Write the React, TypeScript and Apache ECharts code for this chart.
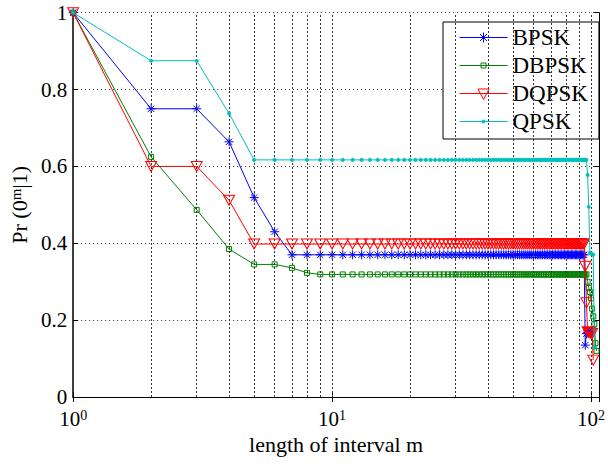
import React, { useEffect, useRef } from "react";
import * as echarts from "echarts";

// interval length m (x values)
const mValues = [
  1, 2, 3, 4, 5, 6, 7, 8, 9, 10,
  11, 12, 13, 14, 15, 16, 17, 18, 19, 20,
  21, 22, 23, 24, 25, 26, 27, 28, 29, 30,
  31, 32, 33, 34, 35, 36, 37, 38, 39, 40,
  41, 42, 43, 44, 45, 46, 47, 48, 49, 50,
  51, 52, 53, 54, 55, 56, 57, 58, 59, 60,
  61, 62, 63, 64, 65, 66, 67, 68, 69, 70,
  71, 72, 73, 74, 75, 76, 77, 78, 79, 80,
  81, 82, 83, 84, 85, 86, 87, 88, 89, 90,
  91, 92, 93, 94, 95, 96, 97, 98, 99, 100,
  101, 102, 103, 104, 105,
];

const bpsk = [
  1, 0.75, 0.75, 0.664, 0.519, 0.43, 0.37, 0.37, 0.37, 0.37,
  0.37, 0.37, 0.37, 0.37, 0.37, 0.37, 0.37, 0.37, 0.37, 0.37,
  0.37, 0.37, 0.37, 0.37, 0.37, 0.37, 0.37, 0.37, 0.37, 0.37,
  0.37, 0.37, 0.37, 0.37, 0.37, 0.37, 0.37, 0.37, 0.37, 0.37,
  0.37, 0.37, 0.37, 0.37, 0.37, 0.37, 0.37, 0.37, 0.37, 0.37,
  0.37, 0.37, 0.37, 0.37, 0.37, 0.37, 0.37, 0.37, 0.37, 0.37,
  0.37, 0.37, 0.37, 0.37, 0.37, 0.37, 0.37, 0.37, 0.37, 0.37,
  0.37, 0.37, 0.37, 0.37, 0.37, 0.37, 0.37, 0.37, 0.37, 0.37,
  0.37, 0.37, 0.37, 0.37, 0.37, 0.37, 0.37, 0.37, 0.37, 0.37,
  0.37, 0.37, 0.37, 0.37, 0.135, 0.165, 0.168, 0.17, 0.17, 0.168,
];

const dbpsk = [
  1, 0.625, 0.487, 0.385, 0.345, 0.345, 0.336, 0.323, 0.319, 0.319,
  0.319, 0.319, 0.319, 0.319, 0.319, 0.319, 0.319, 0.319, 0.319, 0.319,
  0.319, 0.319, 0.319, 0.319, 0.319, 0.319, 0.319, 0.319, 0.319, 0.319,
  0.319, 0.319, 0.319, 0.319, 0.319, 0.319, 0.319, 0.319, 0.319, 0.319,
  0.319, 0.319, 0.319, 0.319, 0.319, 0.319, 0.319, 0.319, 0.319, 0.319,
  0.319, 0.319, 0.319, 0.319, 0.319, 0.319, 0.319, 0.319, 0.319, 0.319,
  0.319, 0.319, 0.319, 0.319, 0.319, 0.319, 0.319, 0.319, 0.319, 0.319,
  0.319, 0.319, 0.319, 0.319, 0.319, 0.319, 0.319, 0.319, 0.319, 0.319,
  0.319, 0.319, 0.319, 0.319, 0.319, 0.319, 0.319, 0.319, 0.319, 0.319,
  0.319, 0.319, 0.319, 0.319, 0.319, 0.319, 0.3, 0.284, 0.273, 0.257,
  0.23, 0.21, 0.19, 0.14, 0.12,
];

const dqpsk = [
  1, 0.6, 0.6, 0.512, 0.398, 0.398, 0.398, 0.398, 0.398, 0.398,
  0.398, 0.398, 0.398, 0.398, 0.398, 0.398, 0.398, 0.398, 0.398, 0.398,
  0.398, 0.398, 0.398, 0.398, 0.398, 0.398, 0.398, 0.398, 0.398, 0.398,
  0.398, 0.398, 0.398, 0.398, 0.398, 0.398, 0.398, 0.398, 0.398, 0.398,
  0.398, 0.398, 0.398, 0.398, 0.398, 0.398, 0.398, 0.398, 0.398, 0.398,
  0.398, 0.398, 0.398, 0.398, 0.398, 0.398, 0.398, 0.398, 0.398, 0.398,
  0.398, 0.398, 0.398, 0.398, 0.398, 0.398, 0.398, 0.398, 0.398, 0.398,
  0.398, 0.398, 0.398, 0.398, 0.398, 0.398, 0.398, 0.398, 0.398, 0.398,
  0.398, 0.398, 0.398, 0.398, 0.398, 0.398, 0.398, 0.398, 0.398, 0.398,
  0.398, 0.398, 0.398, 0.398, 0.34, 0.245, 0.17, 0.168, 0.167, 0.166,
  0.165, 0.096,
];

const qpsk = [
  1, 0.875, 0.875, 0.738, 0.617, 0.617, 0.617, 0.617, 0.617, 0.617,
  0.617, 0.617, 0.617, 0.617, 0.617, 0.617, 0.617, 0.617, 0.617, 0.617,
  0.617, 0.617, 0.617, 0.617, 0.617, 0.617, 0.617, 0.617, 0.617, 0.617,
  0.617, 0.617, 0.617, 0.617, 0.617, 0.617, 0.617, 0.617, 0.617, 0.617,
  0.617, 0.617, 0.617, 0.617, 0.617, 0.617, 0.617, 0.617, 0.617, 0.617,
  0.617, 0.617, 0.617, 0.617, 0.617, 0.617, 0.617, 0.617, 0.617, 0.617,
  0.617, 0.617, 0.617, 0.617, 0.617, 0.617, 0.617, 0.617, 0.617, 0.617,
  0.617, 0.617, 0.617, 0.617, 0.617, 0.617, 0.617, 0.617, 0.617, 0.617,
  0.617, 0.617, 0.617, 0.617, 0.617, 0.617, 0.617, 0.617, 0.617, 0.617,
  0.617, 0.617, 0.617, 0.617, 0.617, 0.617, 0.578, 0.495, 0.375, 0.373,
  0.372, 0.37, 0.13,
];

const seriesNames = ["BPSK", "DBPSK", "DQPSK", "QPSK"];
const xGridValues = [2, 3, 4, 5, 6, 7, 8, 9, 10, 20, 30, 40, 50, 60, 70, 80, 90, 100];
const yTickValues = [0, 0.2, 0.4, 0.6, 0.8, 1];

const FONT = "'Liberation Serif', 'Times New Roman', serif";
const BLUE = "#0000ff";
const GREEN = "#008000";
const RED = "#ff0000";
const CYAN = "#00bfbf";

const toPairs = (vals: number[]) => vals.map((v, i) => [mValues[i], v]);

const asterisk = "path://M5 0L5 10M0 5L10 5M1.5 1.5L8.5 8.5M1.5 8.5L8.5 1.5";

const legendIcons = [
  "path://M0 0M48 14M0 7L48 7M24 2L24 12M19 7L29 7M20.5 3.5L27.5 10.5M20.5 10.5L27.5 3.5",
  "path://M0 0M48 14M0 7L48 7M21.5 4.5L26.5 4.5L26.5 9.5L21.5 9.5Z",
  "path://M0 0M48 14M0 7L48 7M18.5 2.5L29.5 2.5L24 13Z",
  "path://M0 0M48 14M0 7L48 7M22.5 7A1.5 1.5 0 1 1 25.5 7A1.5 1.5 0 1 1 22.5 7Z",
];

const richTick = {
  b: { fontFamily: FONT, fontSize: 21, color: "#000", lineHeight: 21, padding: [3, 0, 0, 0], verticalAlign: "bottom" },
  s: { fontFamily: FONT, fontSize: 14, color: "#000", lineHeight: 14, verticalAlign: "top" },
};

const richName = {
  s: { fontFamily: FONT, fontSize: 15, color: "#000", lineHeight: 15, verticalAlign: "top" },
};

export default function App() {
  const ref = useRef<HTMLDivElement>(null);
  useEffect(() => {
    const chart = echarts.init(ref.current!, null, { renderer: "svg" });
    const xFmt = (v: number) => {
      const e = Math.log10(v);
      const r = Math.round(e);
      if (Math.abs(e - r) > 1e-6) return "";
      return `{b|10}{s|${r}}`;
    };
    const option: any = {
      animation: false,
      backgroundColor: "#fff",
      grid: { left: 71, right: 5.5, top: 12.7, bottom: 67, containLabel: false },
      xAxis: [
        {
          type: "log",
          logBase: 10,
          min: 1,
          max: 107.5,
          position: "bottom",
          name: "length of interval m",
          nameLocation: "middle",
          nameGap: 34,
          nameTextStyle: { fontFamily: FONT, fontSize: 22, color: "#000" },
          axisLine: { show: true, lineStyle: { color: "#000", width: 1 } },
          axisTick: { show: true, inside: true, length: 5, lineStyle: { color: "#000" } },
          axisLabel: { formatter: xFmt, margin: 11, rich: richTick, color: "#000" },
          splitLine: { show: false },
        },
        {
          type: "log",
          logBase: 10,
          min: 1,
          max: 107.5,
          position: "top",
          axisLine: { show: true, lineStyle: { color: "#000", width: 1 } },
          axisTick: { show: true, inside: true, length: 5, lineStyle: { color: "#000" } },
          axisLabel: { show: false },
          splitLine: { show: false },
        },
      ],
      yAxis: [
        {
          type: "value",
          min: 0,
          max: 1,
          interval: 0.2,
          position: "left",
          name: "Pr (0{s|m}|1)",
          nameLocation: "middle",
          nameGap: 43,
          nameRotate: 90,
          nameTextStyle: { fontFamily: FONT, fontSize: 22, color: "#000", rich: richName },
          axisLine: { show: true, lineStyle: { color: "#000", width: 1.5 } },
          axisTick: { show: true, inside: true, length: 5, lineStyle: { color: "#000" } },
          axisLabel: {
            fontFamily: FONT,
            fontSize: 21,
            color: "#000",
            margin: 6,
            formatter: (v: number) => String(yTickValues.find((t) => Math.abs(t - v) < 1e-9) ?? v),
          },
          splitLine: { show: true, lineStyle: { type: [1, 3], color: "#333", width: 1 } },
        },
        {
          type: "value",
          min: 0,
          max: 1,
          interval: 0.2,
          position: "right",
          axisLine: { show: true, lineStyle: { color: "#000", width: 1 } },
          axisTick: { show: true, inside: true, length: 5, lineStyle: { color: "#000" } },
          axisLabel: { show: false },
          splitLine: { show: false },
        },
      ],
      legend: {
        orient: "vertical",
        left: 443,
        top: 22,
        padding: [4, 11, 6, 16],
        itemGap: 5,
        itemWidth: 48,
        itemHeight: 14,
        backgroundColor: "#fff",
        borderColor: "#000",
        borderWidth: 1,
        borderRadius: 0,
        textStyle: { fontFamily: FONT, fontSize: 23, color: "#000" },
        itemStyle: { borderWidth: 1 },
        data: seriesNames.map((n, i) => ({ name: n, icon: legendIcons[i] })),
      },
      series: [
        {
          name: "grid",
          type: "line",
          data: [],
          z: 1,
          silent: true,
          markLine: {
            silent: true,
            symbol: ["none", "none"],
            label: { show: false },
            lineStyle: { type: [2, 2], color: "#333", width: 1 },
            emphasis: { disabled: true },
            data: xGridValues.map((x) => ({ xAxis: x })),
          },
        },
        {
          name: seriesNames[0],
          type: "line",
          data: toPairs(bpsk),
          symbol: asterisk,
          symbolSize: 9,
          showAllSymbol: true,
          lineStyle: { color: BLUE, width: 1 },
          itemStyle: { color: BLUE, borderColor: BLUE, borderWidth: 1 },
          emphasis: { disabled: true },
          z: 3,
        },
        {
          name: seriesNames[1],
          type: "line",
          data: toPairs(dbpsk),
          symbol: "rect",
          symbolSize: 5,
          showAllSymbol: true,
          lineStyle: { color: GREEN, width: 1 },
          itemStyle: { color: "rgba(0,0,0,0)", borderColor: GREEN, borderWidth: 1 },
          emphasis: { disabled: true },
          z: 4,
        },
        {
          name: seriesNames[2],
          type: "line",
          data: toPairs(dqpsk),
          symbol: "triangle",
          symbolRotate: 180,
          symbolSize: [11, 10],
          showAllSymbol: true,
          lineStyle: { color: RED, width: 1 },
          itemStyle: { color: "rgba(0,0,0,0)", borderColor: RED, borderWidth: 1 },
          emphasis: { disabled: true },
          z: 5,
        },
        {
          name: seriesNames[3],
          type: "line",
          data: toPairs(qpsk),
          symbol: "circle",
          symbolSize: 3.5,
          showAllSymbol: true,
          lineStyle: { color: CYAN, width: 1 },
          itemStyle: { color: CYAN, borderColor: CYAN, borderWidth: 0.5 },
          emphasis: { disabled: true },
          z: 6,
        },
      ],
    };
    chart.setOption(option);
    return () => chart.dispose();
  }, []);
  return <div ref={ref} style={{ position: "fixed", left: 0, top: 0, width: 608, height: 464 }} />;
}
